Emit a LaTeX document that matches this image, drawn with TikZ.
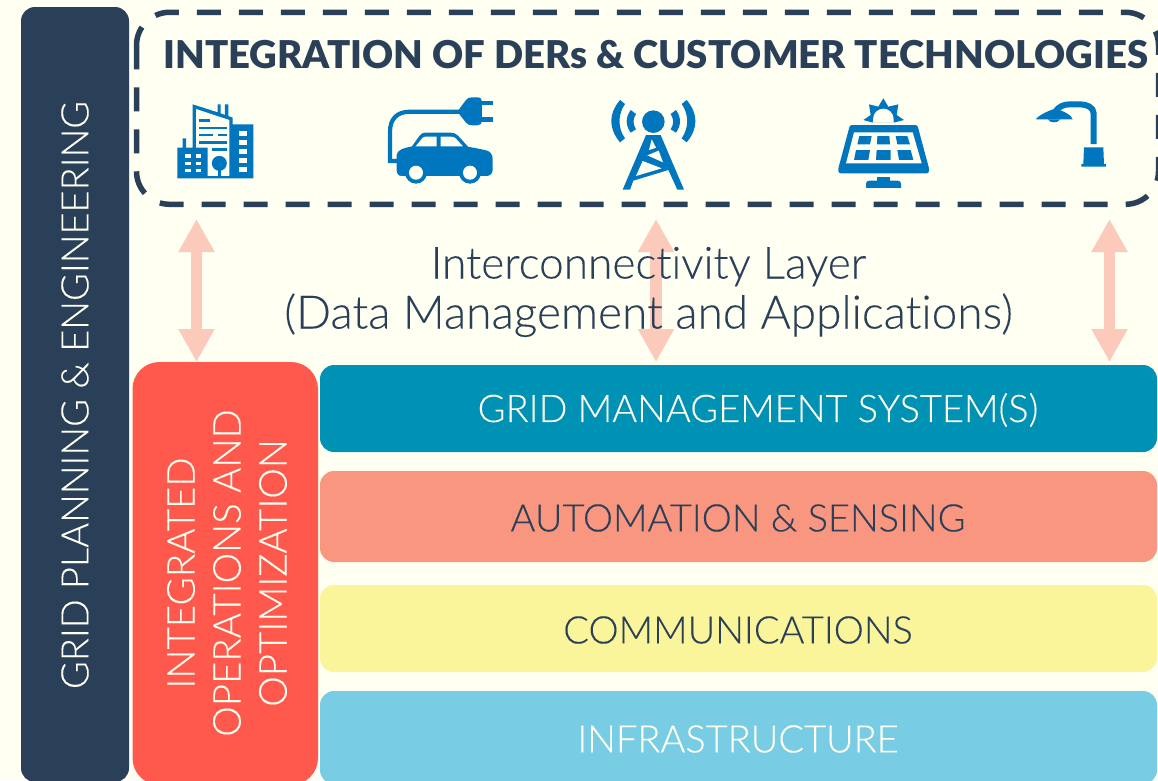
\documentclass[tikz,border=0pt]{standalone}
\usepackage{fontspec}
\setmainfont{Lato Light}[BoldFont=Lato Black,Ligatures=CommonOff,UprightFeatures={FakeBold=0.15}]
\usetikzlibrary{arrows.meta}
\definecolor{bgc}{HTML}{FFFFF2}
\definecolor{navy}{HTML}{2A3F58}
\definecolor{redc}{HTML}{FF584C}
\definecolor{tealc}{HTML}{0092B5}
\definecolor{salmonc}{HTML}{F99680}
\definecolor{yellowc}{HTML}{FAF49B}
\definecolor{skyc}{HTML}{78CCE3}
\definecolor{arrowc}{HTML}{FBCABB}
\definecolor{iconc}{HTML}{0076BE}
\tikzset{
  layerbox/.style={draw=none,rounded corners=14pt,anchor=north west,minimum width=837pt,inner sep=0pt,outer sep=0pt},
  layertext/.style={font=\fontsize{38}{42}\selectfont},
  bigarrow/.style={arrowc,line width=11.5pt,{Triangle[length=33pt,width=34pt]}-{Triangle[length=33pt,width=34pt]}},
  ico/.style={fill=iconc,draw=none},
  icow/.style={fill=bgc,draw=none},
  icol/.style={draw=iconc,fill=none},
}
\begin{document}
\begin{tikzpicture}[x=1pt,y=-1pt]
\useasboundingbox (0,0) rectangle (1158,780);
\fill[bgc] (0,0) rectangle (1158,780);
\clip (0,0) rectangle (1158,780);

% side bars
\node[fill=navy,rounded corners=14pt,minimum width=108pt,minimum height=775pt,anchor=north west,inner sep=0pt,outer sep=0pt] (plan) at (21,7) {};
\node[rotate=90,text=bgc,font=\fontsize{38}{42}\selectfont] (planlabel) at (75,395) {GRID PLANNING \& ENGINEERING};
\node[fill=redc,rounded corners=27pt,minimum width=185.5pt,minimum height=423pt,anchor=north west,inner sep=0pt,outer sep=0pt] (ops) at (132.5,362) {};
\node[rotate=90,text=bgc,align=center,font=\fontsize{38.5}{46}\selectfont] (opslabel) at (227,573) {INTEGRATED\\OPERATIONS AND\\OPTIMIZATION};

% layers
\node[layerbox,fill=tealc,minimum height=87pt] (gms) at (320,365) {};
\node[text=bgc,layertext] (gmsl) at (758,410) {GRID MANAGEMENT SYSTEM(S)};
\node[layerbox,fill=salmonc,minimum height=91pt] (auto) at (320,471) {};
\node[text=navy,layertext] (autol) at (738,518) {AUTOMATION \& SENSING};
\node[layerbox,fill=yellowc,minimum height=87pt] (comm) at (320,585) {};
\node[text=navy,layertext] (comml) at (738,630) {COMMUNICATIONS};
\node[layerbox,fill=skyc,minimum height=93pt] (infra) at (320,691) {};
\node[text=bgc,layertext] (infral) at (738,739) {INFRASTRUCTURE};

% DER box
\draw[navy,line width=5.5pt,dash pattern=on 24pt off 18pt]
  (136.5,45.3) -- (136.5,171.3) .. controls (136.5,189.5) and (151.3,204.3) .. (169.5,204.3)
  -- (1125.5,204.3) .. controls (1143.7,204.3) and (1158.5,189.5) .. (1158.5,171.3)
  -- (1158.5,45.3) .. controls (1158.5,27.1) and (1143.7,12.3) .. (1125.5,12.3)
  -- (169.5,12.3) .. controls (151.3,12.3) and (136.5,27.1) .. (136.5,45.3) -- cycle;
\node[text=navy,font=\bfseries\fontsize{38.3}{40}\selectfont] (derl) at (656,55) {INTEGRATION OF DERs \& CUSTOMER TECHNOLOGIES};

% arrows
\coordinate (a1t) at (196.5,219); \coordinate (a1b) at (196.5,362);
\coordinate (a2t) at (656,219); \coordinate (a2b) at (656,362);
\coordinate (a3t) at (1109.5,219); \coordinate (a3b) at (1109.5,362);
\draw[bigarrow] (a1t) -- (a1b);
\draw[bigarrow] (a2t) -- (a2b);
\draw[bigarrow] (a3t) -- (a3b);

\node[text=navy,align=center,font=\fontsize{44.2}{50}\selectfont] (inter) at (648.5,292) {Interconnectivity Layer\\{\fontsize{46}{50}\selectfont (Data Management and Applications)}};

% building
\begin{scope}[shift={(170,95)},x=0.3333pt,y=-0.3333pt]
  \fill[ico] (68,28)--(143,52)--(143,28)--(152,28)--(152,55)--(165,60)--(165,28)--(175,28)--(175,63)--(188,68)--(188,88)--(250,88)--(250,250)--(22,250)--(22,158)--(38,158)--(38,130)--(48,130)--(48,158)--(68,158)--cycle;
  \fill[icow] (78,42)--(178,75)--(178,243)--(113,243)--(113,158)--(78,158)--cycle;
  \fill[ico] (88,72) rectangle (120,80);
  \fill[ico] (88,95) rectangle (170,102);
  \fill[ico] (88,117) rectangle (130,124);
  \fill[ico] (143,117) rectangle (170,124);
  \fill[ico] (88,138) rectangle (170,146);
  \fill[ico] (125,160) rectangle (170,167);
  \fill[ico] (148,205) circle[radius=7.5pt];
  \fill[ico] (143,215) rectangle (153,245);
  \foreach \ya in {108,135,162,188,215}
    \fill[icow] (207,\ya) rectangle (230,\ya+16);
  \foreach \ya in {178,200,222} {
    \fill[icow] (45,\ya) rectangle (62,\ya+10);
    \fill[icow] (77,\ya) rectangle (94,\ya+10);
  }
\end{scope}

% car and plug
\begin{scope}[shift={(380,90)},x=0.3333pt,y=-0.3333pt]
  \draw[icol,line width=4.2pt] (52,213)--(30,213)--(30,125) .. controls (30,88) and (50,65) .. (90,65) -- (240,65);
  \fill[ico] (50,195) .. controls (52,180) and (68,175) .. (96,169) -- (118,138) .. controls (122,132) and (127,128) .. (135,128) -- (212,128) .. controls (222,128) and (228,131) .. (235,138) -- (264,170) -- (315,180) .. controls (330,183) and (338,192) .. (338,207) -- (338,240) .. controls (338,250) and (330,258) .. (320,258) -- (65,258) .. controls (55,258) and (50,250) .. (50,240) -- cycle;
  \fill[icow] (107,169)--(128,143) .. controls (130,141) and (132,140) .. (136,140) -- (170,140) -- (170,169) --cycle;
  \fill[icow] (182,140) -- (212,140) .. controls (220,140) and (224,141) .. (228,146) -- (249,169) -- (182,169) -- cycle;
  \foreach \cx in {108,270} {
    \fill[ico] (\cx,248) circle[radius=11pt];
    \fill[icow] (\cx,248) circle[radius=7pt];
  }
  \fill[ico] (232,65)--(258,30) .. controls (262,24) and (268,22) .. (276,22) -- (292,22) .. controls (302,22) and (306,28) .. (306,35) -- (306,93) .. controls (306,101) and (300,106) .. (292,106) -- (276,106) .. controls (268,106) and (262,103) .. (258,98) --cycle;
  \fill[ico] (303,33) rectangle (340,45);
  \fill[ico] (303,81) rectangle (340,95);
\end{scope}

% tower
\begin{scope}[shift={(600,90)},x=0.3333pt,y=-0.3333pt]
  \fill[ico] (160,95) circle[radius=11.3pt];
  \foreach \sx/\ox in {1/0,-1/320} {
    \fill[ico] (\ox+\sx*92,60)--(\ox+\sx*108,72) .. controls (\ox+\sx*98,88) and (\ox+\sx*98,102) .. (\ox+\sx*108,118)--(\ox+\sx*92,128) .. controls (\ox+\sx*76,105) and (\ox+\sx*76,83) .. (\ox+\sx*92,60)--cycle;
    \fill[ico] (\ox+\sx*60,30)--(\ox+\sx*75,42) .. controls (\ox+\sx*53,72) and (\ox+\sx*53,115) .. (\ox+\sx*75,145)--(\ox+\sx*60,157) .. controls (\ox+\sx*25,115) and (\ox+\sx*25,72) .. (\ox+\sx*60,30)--cycle;
  }
  \fill[ico] (138,135)--(182,135)--(252,299)--(232,299)--(205,240)--(100,272)--(90,299)--(68,299)--cycle;
  \fill[icow] (155,148)--(168,173)--(147,180)--cycle;
  \fill[icow] (142,196)--(176,182)--(189,217)--cycle;
  \fill[icow] (128,213)--(185,235)--(108,258)--cycle;
\end{scope}

% solar panel and lamp
\begin{scope}[shift={(830,90)},x=0.3333pt,y=-0.3333pt]
  \fill[ico] (100,90)--(122,75)--(117,43)--(145,50)--(160,25)--(175,50)--(205,43)--(200,75)--(222,90)--(195,97)--(125,97)--cycle;
  \fill[icow] (129,98) -- (129,88) .. controls (129,70) and (143,56) .. (160,56) .. controls (177,56) and (191,70) .. (191,88) -- (191,98) -- cycle;
  \fill[ico] (66,105) -- (256,105) .. controls (260,105) and (263,108) .. (264,112) -- (297,235) -- (297,242) .. controls (297,246) and (295,250) .. (290,250) -- (32,250) .. controls (27,250) and (25,246) .. (25,242) -- (25,235) -- (58,112) .. controls (59,108) and (62,105) .. (66,105) -- cycle;
  \fill[icow] (72,127)--(248,127)--(275,220)--(48,220)--cycle;
  \fill[ico] (88,138)--(125,138)--(120,163)--(82,163)--cycle;
  \fill[ico] (142,138)--(178,138)--(180,163)--(141,163)--cycle;
  \fill[ico] (197,138)--(232,138)--(240,163)--(202,163)--cycle;
  \fill[ico] (78,180)--(120,180)--(115,210)--(72,210)--cycle;
  \fill[ico] (140,180)--(182,180)--(182,210)--(138,210)--cycle;
  \fill[ico] (202,180)--(242,180)--(250,210)--(207,210)--cycle;
  \fill[ico] (140,262) rectangle (180,273);
  \fill[ico] (108,294) -- (108,282) .. controls (108,275) and (112,272) .. (118,272) -- (203,272) .. controls (210,272) and (213,276) .. (213,282) -- (213,294) -- cycle;
  \draw[icol,line width=6pt] (791,162)--(791,70) .. controls (791,52) and (770,43) .. (750,43) -- (720,43) .. controls (700,43) and (688,50) .. (678,62);
  \fill[ico] (618,88) .. controls (622,78) and (655,62) .. (675,56) .. controls (700,62) and (726,76) .. (728,88) -- cycle;
  \fill[ico] (654,88) .. controls (658,100) and (686,100) .. (690,88) -- cycle;
  \fill[ico] (762,172)--(820,172)--(822,222)--(828,222)--(828,230)--(754,230)--(754,222)--(760,222)--cycle;
\end{scope}
\end{tikzpicture}
\end{document}
